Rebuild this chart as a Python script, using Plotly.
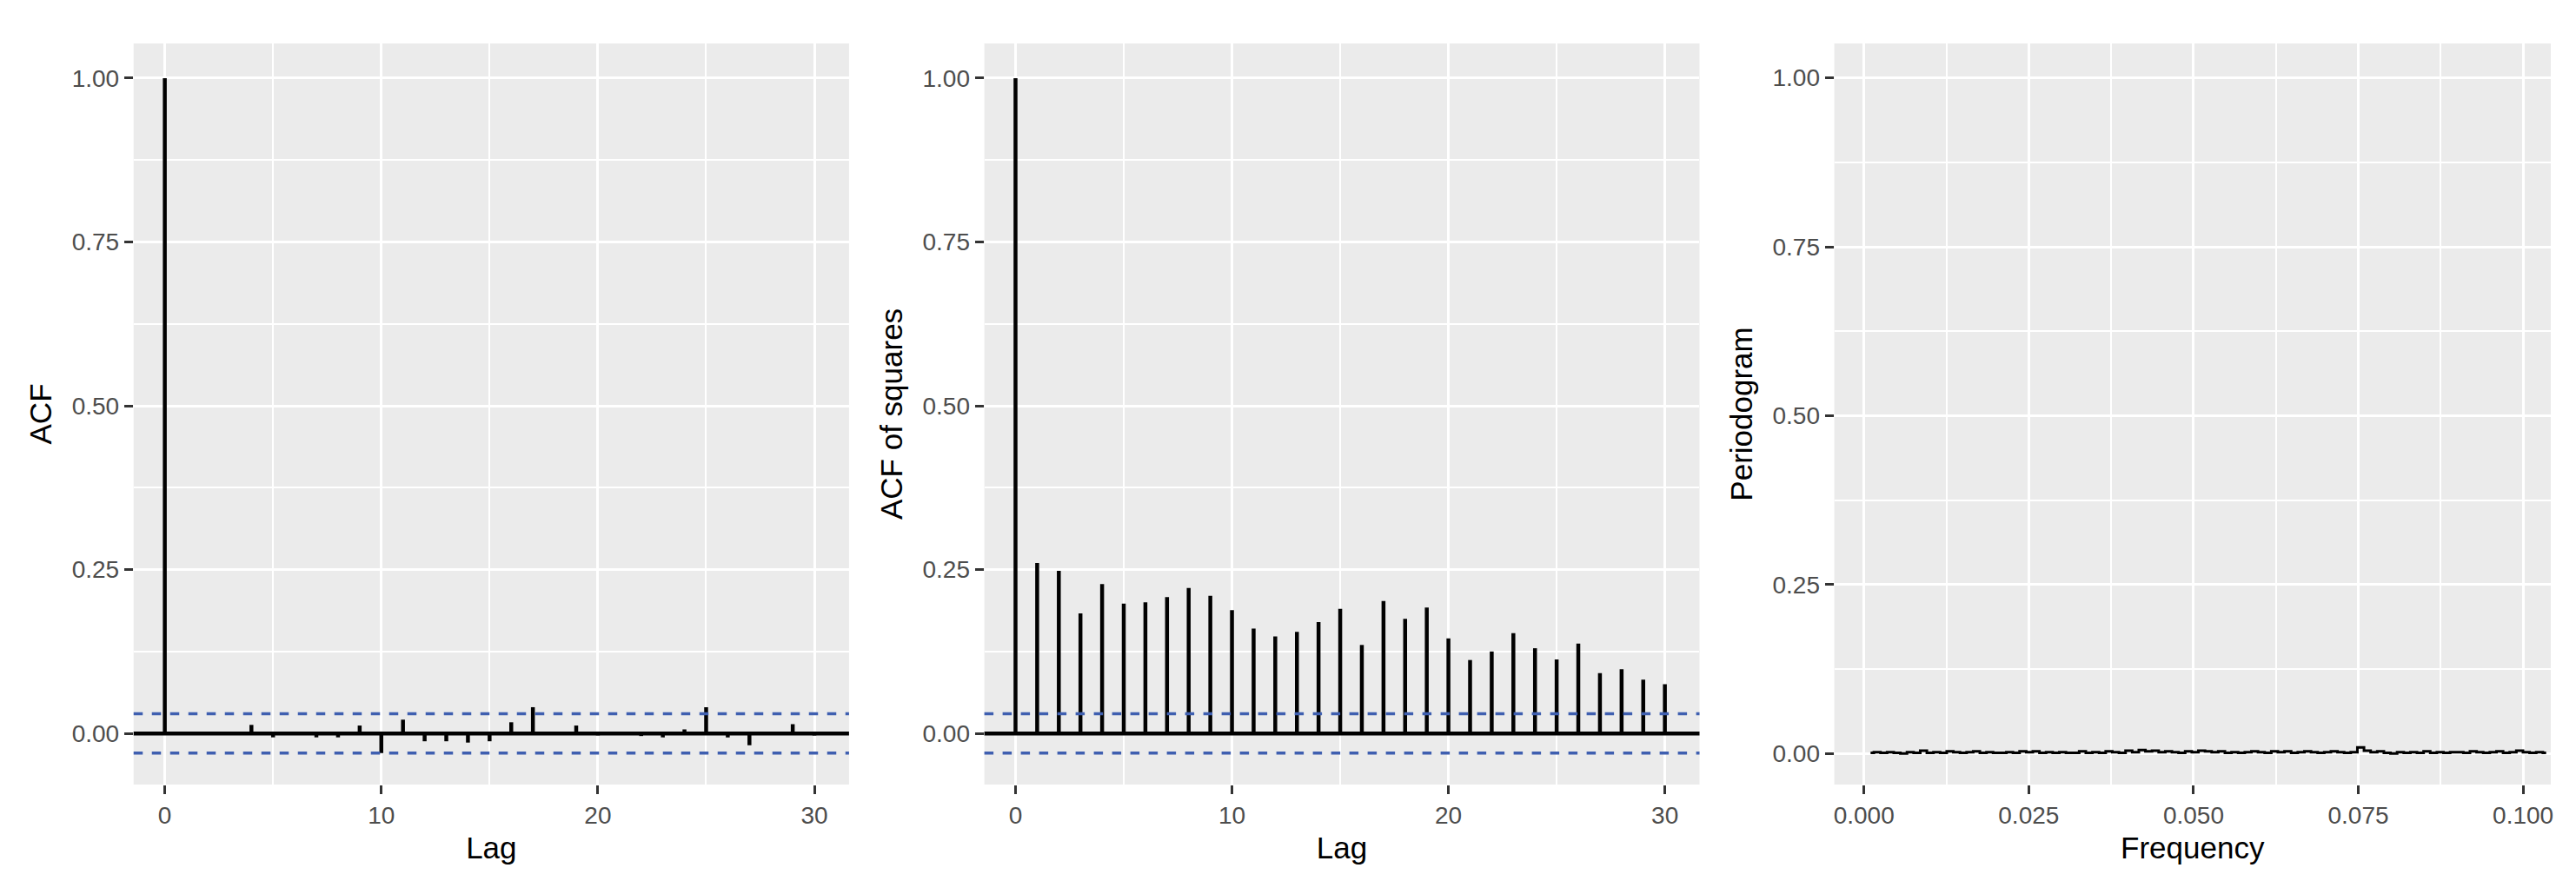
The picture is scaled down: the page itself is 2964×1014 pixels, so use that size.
import plotly.graph_objects as go
import numpy as np

lags = list(range(0, 31))
acf_vals = [1.0, 0.001, 0.001, 0.002, 0.013, -0.006, 0.0, -0.006, -0.006, 0.012, -0.03,
            0.021, -0.012, -0.012, -0.014, -0.012, 0.017, 0.04, 0.0, 0.012, -0.003,
            0.0, -0.004, -0.006, 0.006, 0.04, -0.006, -0.018, 0.0, 0.014, -0.003]
acf_sq_vals = [1.0, 0.26, 0.248, 0.183, 0.228, 0.198, 0.2, 0.208, 0.222, 0.21, 0.188,
               0.16, 0.148, 0.155, 0.17, 0.19, 0.135, 0.202, 0.175, 0.192, 0.145,
               0.112, 0.125, 0.153, 0.13, 0.113, 0.137, 0.092, 0.098, 0.082, 0.075]
ci = 0.03
pgram_vals = [0.001, 0.002, 0.001, 0.002, 0.001, 0.0, 0.002, 0.001, 0.004, 0.001,
              0.002, 0.001, 0.003, 0.002, 0.001, 0.002, 0.003, 0.001, 0.002, 0.001,
              0.001, 0.002, 0.001, 0.003, 0.002, 0.003, 0.001, 0.002, 0.001, 0.002,
              0.001, 0.001, 0.003, 0.001, 0.002, 0.001, 0.003, 0.002, 0.001, 0.004,
              0.002, 0.005, 0.003, 0.004, 0.002, 0.003, 0.002, 0.001, 0.003, 0.002,
              0.004, 0.003, 0.002, 0.003, 0.001, 0.002, 0.001, 0.002, 0.003, 0.002,
              0.001, 0.003, 0.002, 0.003, 0.001, 0.002, 0.003, 0.002, 0.001, 0.002,
              0.003, 0.002, 0.001, 0.002, 0.009, 0.004, 0.002, 0.003, 0.001, 0.0,
              0.002, 0.001, 0.002, 0.001, 0.003, 0.001, 0.002, 0.001, 0.002, 0.002,
              0.001, 0.003, 0.002, 0.001, 0.002, 0.003, 0.001, 0.002, 0.004, 0.002,
              0.001, 0.002, 0.001]
pgram_freq = list(np.linspace(0.001, 0.1035, len(pgram_vals)))

def stems(x, y):
    xs, ys = [], []
    for a, b in zip(x, y):
        xs += [a, a, None]
        ys += [0, b, None]
    return xs, ys

fig = go.Figure()
for i, vals in enumerate([acf_vals, acf_sq_vals]):
    xs, ys = stems(lags, vals)
    ax = "" if i == 0 else "2"
    fig.add_trace(go.Scatter(x=xs, y=ys, mode="lines", line=dict(color="black", width=4.5),
                             xaxis="x" + ax, yaxis="y" + ax, showlegend=False, hoverinfo="skip"))
    fig.add_shape(type="line", xref="x%s domain" % ax, yref="y" + ax, x0=0, x1=1, y0=0, y1=0,
                  line=dict(color="black", width=4.5))
    for c in (ci, -ci):
        fig.add_shape(type="line", xref="x%s domain" % ax, yref="y" + ax, x0=0, x1=1, y0=c, y1=c,
                      line=dict(color="#3f5fb0", width=3.5, dash="dash"))

fig.add_trace(go.Scatter(x=pgram_freq, y=pgram_vals, mode="lines", line=dict(color="black", width=3, shape="hvh"),
                         xaxis="x3", yaxis="y3", showlegend=False, hoverinfo="skip"))

font = dict(family="Liberation Sans, Arial, sans-serif")
tickf = dict(family="Liberation Sans, Arial, sans-serif", size=28, color="#4d4d4d")
titlef = dict(family="Liberation Sans, Arial, sans-serif", size=35, color="black")
y0, y1 = 0.1174, 0.9586
common = dict(showgrid=True, gridcolor="white", gridwidth=3, zeroline=False, ticks="outside",
              ticklen=10, tickwidth=3, tickcolor="#333333", tickfont=tickf, showline=False)

def xa(dom, rng, dtick, mdtick, title, fmt=None):
    d = dict(common, domain=dom, range=rng, dtick=dtick, tick0=0,
             minor=dict(dtick=mdtick, tick0=0, showgrid=True, gridcolor="white", gridwidth=1.5, ticks=""),
             title=dict(text=title, font=titlef, standoff=10))
    if fmt:
        d["tickformat"] = fmt
    return d

def ya(anchor, rng, title):
    return dict(common, domain=[y0, y1], range=rng, anchor=anchor, tickvals=[0, 0.25, 0.5, 0.75, 1.0],
                tickformat=".2f",
                minor=dict(tickvals=[0.125, 0.375, 0.625, 0.875], showgrid=True, gridcolor="white", gridwidth=1.5, ticks=""),
                title=dict(text=title, font=titlef, standoff=12))

fig.update_layout(
    width=2964, height=1014, margin=dict(l=0, r=0, t=0, b=0),
    paper_bgcolor="white", plot_bgcolor="#ebebeb", font=font,
    xaxis=dict(xa([0.0489, 0.327], [-1.44, 31.6], 10, 5, "Lag"), anchor="y"),
    yaxis=ya("x", [-0.078, 1.053], "ACF"),
    xaxis2=dict(xa([0.3796, 0.6576], [-1.44, 31.6], 10, 5, "Lag"), anchor="y2"),
    yaxis2=ya("x2", [-0.078, 1.053], "ACF of squares"),
    xaxis3=dict(xa([0.71, 0.9885], [-0.0045, 0.1042], 0.025, 0.0125, "Frequency", ".3f"), anchor="y3"),
    yaxis3=ya("x3", [-0.046, 1.051], "Periodogram"),
)
fig.write_html("out.html")
